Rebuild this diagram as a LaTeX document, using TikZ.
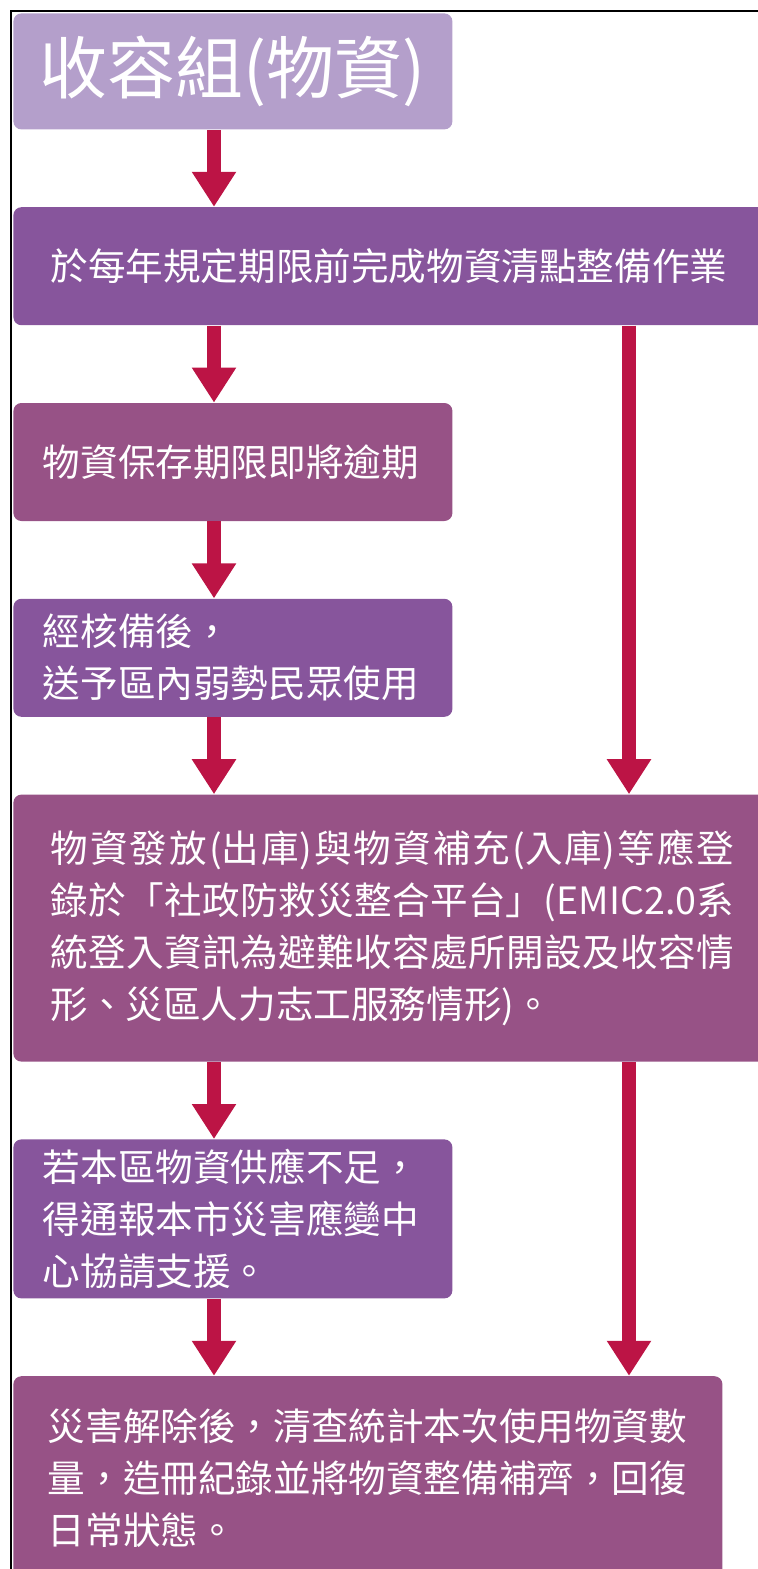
\documentclass[tikz,border=0pt]{standalone}
\usepackage{fontspec}
\setmainfont{Noto Sans CJK TC}
\usepackage{xcolor}
\usepackage{tikz}
\usetikzlibrary{positioning,arrows.meta}
\definecolor{lavender}{HTML}{B49FCB}
\definecolor{violet}{HTML}{87559C}
\definecolor{plum}{HTML}{975286}
\definecolor{crimson}{HTML}{BC1445}

\begin{document}
\begin{tikzpicture}[
    node distance=38.5pt,
    every node/.style={text=white},
    titlebox/.style={rectangle, fill=lavender, rounded corners=4pt, minimum width=219.5pt, minimum height=58pt, font=\fontsize{34pt}{40pt}\selectfont},
    stepbox/.style={rectangle, rounded corners=4pt, minimum width=219.5pt, minimum height=59pt, text width=190pt, inner xsep=0pt, align=left, font=\fontsize{18.8pt}{26pt}\selectfont},
    widebox/.style={stepbox, minimum width=379pt, text width=342pt},
    arrow/.style={line width=7pt, draw=crimson, -{Triangle[width=21pt,length=17.5pt]}}
]
\useasboundingbox (0,0) rectangle (379pt,-784.5pt);

% Frame
\draw[line width=1pt] (5.5pt,-5.5pt) rectangle (420pt,-820pt);

% Lanes for the arrows
\coordinate (lane) at (107pt,0);
\coordinate (rlane) at (314.5pt,0);

% Boxes
\node[titlebox, anchor=north west] (title) at (6.5pt,-6.5pt) {收容組(物資)};
\node[widebox, fill=violet, below=of title.south west, anchor=north west] (plan) {於每年規定期限前完成物資清點整備作業};
\node[stepbox, fill=plum, below=of plan.south west, anchor=north west] (expiry) {物資保存期限即將逾期};
\node[stepbox, fill=violet, below=of expiry.south west, anchor=north west] (donate) {經核備後，\\送予區內弱勢民眾使用};
\node[widebox, fill=plum, minimum height=133.5pt, align=justify, below=of donate.south west, anchor=north west] (record) {\XeTeXlinebreaklocale "zh"\XeTeXlinebreakskip=0pt plus 4pt\relax
物資發放(出庫)與物資補充(入庫)等應登\linebreak 錄於「社政防救災整合平台」(EMIC2.0系\linebreak 統登入資訊為避難收容處所開設及收容情\linebreak 形、災區人力志工服務情形)。};
\node[stepbox, fill=violet, minimum height=79.5pt, below=of record.south west, anchor=north west] (support) {若本區物資供應不足，\\得通報本市災害應變中\\心協請支援。};
\node[stepbox, fill=plum, minimum width=354.5pt, text width=320pt, minimum height=102pt, below=of support.south west, anchor=north west] (restore) {災害解除後，清查統計本次使用物資數\\量，造冊紀錄並將物資整備補齊，回復\\日常狀態。};

% Left arrows
\draw[arrow] (title.south -| lane) -- (plan.north -| lane);
\draw[arrow] (plan.south -| lane) -- (expiry.north -| lane);
\draw[arrow] (expiry.south -| lane) -- (donate.north -| lane);
\draw[arrow] (donate.south -| lane) -- (record.north -| lane);
\draw[arrow] (record.south -| lane) -- (support.north -| lane);
\draw[arrow] (support.south -| lane) -- (restore.north -| lane);

% Right arrows
\draw[arrow] (plan.south -| rlane) -- (record.north -| rlane);
\draw[arrow] (record.south -| rlane) -- (restore.north -| rlane);

\end{tikzpicture}
\end{document}
